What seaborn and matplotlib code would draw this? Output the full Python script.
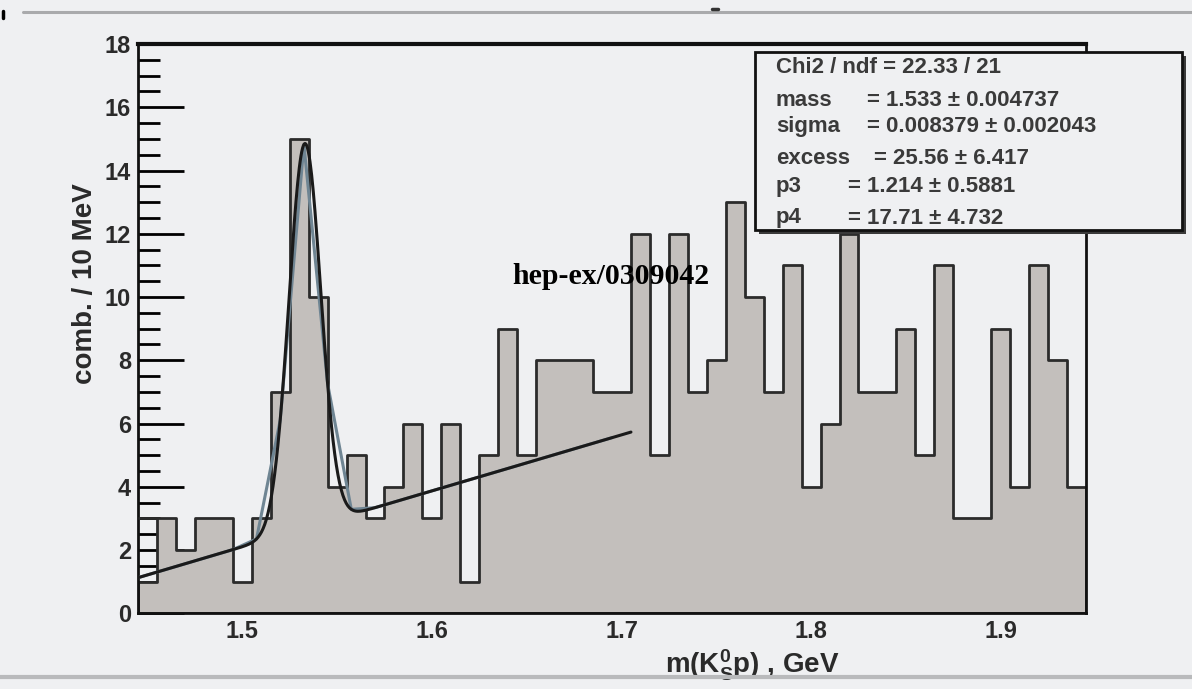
import numpy as np
import pandas as pd
import matplotlib
matplotlib.use("Agg")
import matplotlib.pyplot as plt
import seaborn as sns
from matplotlib.patches import Rectangle
from matplotlib.lines import Line2D
from matplotlib.ticker import MultipleLocator, FixedLocator

# ---------------- data ----------------
bin_lo = 1.445
bin_width = 0.01
counts = [1, 3, 2, 3, 3, 1, 3, 7, 15, 10,
          4, 5, 3, 4, 6, 3, 6, 1, 5, 9,
          5, 8, 8, 8, 7, 7, 12, 5, 12, 7,
          8, 13, 10, 7, 11, 4, 6, 12, 7, 7,
          9, 5, 11, 3, 3, 9, 4, 11, 8, 4]
first_bin_outline = 3

x_major = [1.5, 1.6, 1.7, 1.8, 1.9]
x_labels = ["1.5", "1.6", "1.7", "1.8", "1.9"]
y_major = [0, 2, 4, 6, 8, 10, 12, 14, 16, 18]

# fit parameters (from stats box)
fit_mass = 1.533
fit_sigma = 0.008379
fit_excess = 25.56
fit_p3 = 1.214
fit_p4 = 17.71
fit_lo, fit_hi = 1.445, 1.705
bg_x0 = 1.45

stat_names = ["mass", "sigma", "excess", "p3", "p4"]
stat_values = ["= 1.533 \u00b1 0.004737", "= 0.008379 \u00b1 0.002043",
               "= 25.56 \u00b1 6.417", "= 1.214 \u00b1 0.5881", "= 17.71 \u00b1 4.732"]
chi2_text = "Chi2 / ndf = 22.33 / 21"

# ---------------- style ----------------
W, H = 1192, 689
bg = "#eff0f2"
fill_color = "#c3bfbc"
edge_color = "#2b2b2b"

sns.set_style("ticks")
plt.rcParams["font.family"] = ["Liberation Sans", "DejaVu Sans"]
plt.rcParams["mathtext.fontset"] = "custom"
plt.rcParams["mathtext.rm"] = "Liberation Sans:bold"
plt.rcParams["mathtext.bf"] = "Liberation Sans:bold"
plt.rcParams["mathtext.default"] = "rm"

def fx(px):
    return px / W

def fy(py):
    return 1 - py / H

fig = plt.figure(figsize=(W / 100, H / 100), dpi=100, facecolor=bg)
ax_l, ax_r, ax_t, ax_b = 138, 1086, 44, 613.3
ax = fig.add_axes([fx(ax_l), fy(ax_b), (ax_r - ax_l) / W, (ax_b - ax_t) / H])
ax.set_facecolor(bg)

edges = [bin_lo + bin_width * i for i in range(len(counts) + 1)]
centers = [0.5 * (edges[i] + edges[i + 1]) for i in range(len(counts))]
df = pd.DataFrame({"mass": centers, "count": counts})

sns.histplot(data=df, x="mass", weights="count", bins=edges, element="step",
             fill=True, color=fill_color, edgecolor=edge_color, linewidth=2.0,
             alpha=1, ax=ax, legend=False)
# outline of the first bin as drawn in the original
ax.hlines(first_bin_outline, edges[0], edges[1], color=edge_color, lw=2.0, zorder=3)

# fit function: gaussian (excess counts) + linear background
def fit_func(x):
    amp = fit_excess * bin_width / (np.sqrt(2 * np.pi) * fit_sigma)
    return amp * np.exp(-0.5 * ((x - fit_mass) / fit_sigma) ** 2) + fit_p3 + fit_p4 * (x - bg_x0)

x_coarse = np.arange(fit_lo, fit_hi + 1e-9, 0.0125)
x_fine = np.linspace(fit_lo, fit_hi, 600)
ax.plot(x_coarse, fit_func(x_coarse), color="#6f8593", lw=2.2, zorder=4)
ax.plot(x_fine, fit_func(x_fine), color="#1a1a1a", lw=2.2, zorder=5)

ax.set_xlim(edges[0], edges[-1])
ax.set_ylim(0, 18)

ax.xaxis.set_major_locator(FixedLocator(x_major))
ax.set_xticklabels(x_labels)
ax.xaxis.set_minor_locator(FixedLocator([1.45, 1.55, 1.65, 1.75, 1.85]))
ax.yaxis.set_major_locator(FixedLocator(y_major))
ax.yaxis.set_minor_locator(MultipleLocator(0.5))

ax.tick_params(axis="x", which="major", direction="in", length=17, width=2,
               color="black", pad=5, labelsize=17, labelcolor="#2a2a2a")
ax.tick_params(axis="x", which="minor", direction="in", length=8, width=2, color="black")
ax.tick_params(axis="y", which="major", direction="in", length=33, width=2,
               color="black", pad=5, labelsize=17, labelcolor="#2a2a2a")
ax.tick_params(axis="y", which="minor", direction="in", length=16, width=2, color="black")
for lab in ax.get_xticklabels() + ax.get_yticklabels():
    lab.set_fontweight("bold")

for side, sp in ax.spines.items():
    sp.set_visible(True)
    sp.set_color("#111111")
    sp.set_linewidth(2.0)
ax.spines["top"].set_linewidth(3.0)

ax.set_xlabel(r"m(K$^{0}_{S}$p) , GeV", fontsize=20, fontweight="bold",
              color="#2a2a2a", va="center")
ax.xaxis.set_label_coords((752 - ax_l) / (ax_r - ax_l), (ax_b - 665) / (ax_b - ax_t))
ax.set_ylabel("comb. / 10 MeV", fontsize=20, fontweight="bold", color="#2a2a2a",
              va="center")
ax.yaxis.set_label_coords((85 - ax_l) / (ax_r - ax_l), (ax_b - 284) / (ax_b - ax_t))

# annotation
fig.text(fx(611), fy(277), "hep-ex/0309042", family=["Liberation Serif", "DejaVu Serif"],
         weight="bold", fontsize=21.5, ha="center", va="center", color="black")

# stats box with shadow
bx0, bx1, by0, by1 = 755, 1182, 51.7, 230
fig.add_artist(Rectangle((fx(bx0 + 4), fy(by1 + 4)), (bx1 - bx0) / W, (by1 - by0) / H,
                         transform=fig.transFigure, facecolor="#3a3a3a",
                         edgecolor="none", zorder=10))
fig.add_artist(Rectangle((fx(bx0), fy(by1)), (bx1 - bx0) / W, (by1 - by0) / H,
                         transform=fig.transFigure, facecolor=bg,
                         edgecolor="#111111", lw=2, zorder=11))
txt_kw = dict(fontsize=16, fontweight="bold", color="#3a3a3a", va="center",
              ha="left", zorder=12)
fig.text(fx(776), fy(67.7), chi2_text, **txt_kw)
name_y = [101, 126.7, 158, 186.7, 218]
eq_x = [867, 867, 874, 848, 848]
for nm, val, yy, ex in zip(stat_names, stat_values, name_y, eq_x):
    fig.text(fx(776), fy(yy), nm, **txt_kw)
    fig.text(fx(ex), fy(yy), val, **txt_kw)

# screenshot frame details
fig.add_artist(Line2D([fx(23), 1], [fy(12), fy(12)], color="#a9aaac", lw=2.2,
                      transform=fig.transFigure))
fig.add_artist(Line2D([0, 1], [fy(677), fy(677)], color="#b9babc", lw=3,
                      transform=fig.transFigure))
fig.add_artist(Line2D([fx(3), fx(3)], [fy(11), fy(18)], color="black", lw=2.5,
                      transform=fig.transFigure))
fig.add_artist(Line2D([fx(712), fx(718)], [fy(9), fy(9)], color="#333333", lw=2.5,
                      transform=fig.transFigure))

fig.savefig("out.png", dpi=100, facecolor=bg)
